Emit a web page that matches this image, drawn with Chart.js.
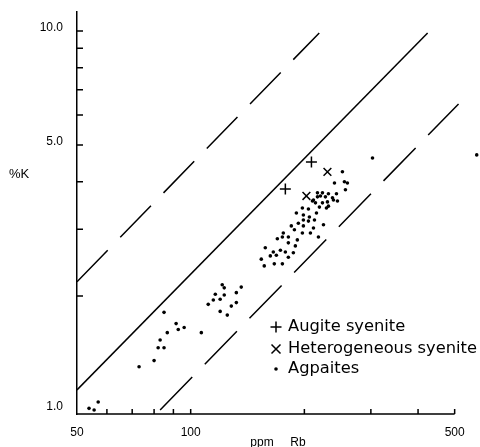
<!DOCTYPE html>
<html lang="en">
<head>
<meta charset="UTF-8">
<title>K vs Rb</title>
<style>
    body { margin: 0; background: #fff; }
    #chart { display: block; }
</style>
</head>
<body>
<canvas id="chart" width="480" height="447"></canvas>
<script src="https://cdn.jsdelivr.net/npm/chart.js"></script>
<script>
// Rb (ppm) and K (%)
const agpaiteRb = [53.8, 55.5, 56.9, 73.0, 80.0, 82.0, 85.0, 83.0, 86.7, 85.0, 91.5, 92.7, 96.1, 106.7,
    111.3, 114.8, 116.2, 119.7, 121.2, 122.7, 122.7, 119.7, 125.0, 128.1, 132.1, 132.1, 136.1,
    153.8, 156.6, 157.6, 162.5, 165.5, 166.5, 168.6, 169.6, 172.8, 174.9, 174.9, 175.9, 178.1,
    181.4, 181.4, 181.4, 184.7, 187.0, 188.2, 189.3, 190.5, 191.6, 192.8, 197.6, 197.6, 198.8,
    198.8, 198.8, 205.0, 205.0, 206.2, 207.5, 210.1, 211.4, 211.4, 212.7, 214.0, 215.3, 216.6,
    216.6, 217.9, 219.2, 220.6, 223.3, 223.3, 224.7, 227.4, 228.8, 230.2, 231.6, 231.6, 237.4,
    238.8, 240.3, 243.2, 244.7, 252.2, 255.3, 260.0, 256.9, 303, 572];
const agpaiteK = [1.01, 1.00, 1.05, 1.30, 1.35, 1.46, 1.46, 1.53, 1.60, 1.81, 1.69, 1.63, 1.65, 1.60,
    1.90, 1.95, 2.02, 1.96, 2.14, 2.10, 2.01, 1.82, 1.78, 1.88, 1.92, 2.04, 2.11,
    2.50, 2.40, 2.68, 2.55, 2.61, 2.43, 2.56, 2.83, 2.64, 2.86, 2.43, 2.93, 2.61,
    2.86, 2.76, 2.53, 3.06, 2.60, 2.99, 2.71, 3.31, 2.81, 3.11, 3.41, 2.93, 3.27,
    3.17, 3.06, 3.39, 3.15, 3.23, 2.93, 3.56, 3.58, 3.02, 3.17, 3.52, 3.31, 3.74,
    3.65, 2.86, 3.43, 3.67, 3.74, 3.52, 3.08, 3.65, 3.41, 3.54, 3.72, 3.45, 3.63,
    3.58, 3.97, 3.72, 3.56, 4.25, 4.00, 3.97, 3.81, 4.62, 4.71];
const augiteRb = [208.8, 178.1];
const augiteK = [4.51, 3.83];
const heteroRb = [230.2, 202.5];
const heteroK = [4.25, 3.67];

// constant K/Rb reference lines
const upperDashRb = [50, 219];
const upperDashK = [2.18, 9.88];
const solidRb = [50, 424];
const solidK = [1.13, 9.88];
const lowerDashRb = [83, 512];
const lowerDashK = [1.0, 6.42];

const xTicks = [50, 60, 70, 80, 90, 100, 200, 300, 400, 500];
const xLabels = [50, 100, 500];
const yTicks = [1, 2, 3, 4, 5, 6, 7, 8, 9, 10];
const yLabels = [1, 5, 10];

const legendNames = ['Augite syenite', 'Heterogeneous syenite', 'Agpaites'];

function toPoints(xs, ys) {
    return xs.map((x, i) => ({ x: x, y: ys[i] }));
}

function drawMarker(ctx, style, x, y) {
    ctx.beginPath();
    if (style === 'cross') {
        ctx.moveTo(x - 5.5, y); ctx.lineTo(x + 5.5, y);
        ctx.moveTo(x, y - 5.5); ctx.lineTo(x, y + 5.5);
        ctx.stroke();
    } else if (style === 'crossRot') {
        ctx.moveTo(x - 4.5, y - 4.5); ctx.lineTo(x + 4.5, y + 4.5);
        ctx.moveTo(x - 4.5, y + 4.5); ctx.lineTo(x + 4.5, y - 4.5);
        ctx.stroke();
    } else {
        ctx.arc(x, y, 1.8, 0, Math.PI * 2);
        ctx.fill();
    }
}

const extras = {
    id: 'extras',
    afterDraw(chart) {
        const ctx = chart.ctx;
        const xs = chart.scales.x, ys = chart.scales.y;
        const area = chart.chartArea;
        ctx.save();
        ctx.strokeStyle = '#000';
        ctx.fillStyle = '#000';
        ctx.lineWidth = 1.5;

        // x axis line stops at 500, the last point sits beyond it
        const xEnd = xs.getPixelForValue(500);
        ctx.beginPath();
        ctx.moveTo(area.left, area.bottom);
        ctx.lineTo(xEnd, area.bottom);

        // tick marks pointing into the plot
        yTicks.forEach(v => {
            if (v === 1) return;
            const py = ys.getPixelForValue(v);
            ctx.moveTo(area.left, py);
            ctx.lineTo(area.left + 6, py);
        });
        xTicks.forEach(v => {
            if (v === 50) return;
            const px = xs.getPixelForValue(v);
            ctx.moveTo(px, area.bottom);
            ctx.lineTo(px, area.bottom - 5);
        });
        ctx.stroke();

        ctx.font = '13px "Liberation Sans", Arial, sans-serif';
        ctx.textBaseline = 'middle';
        ctx.textAlign = 'left';
        ctx.fillText('%K', 9, 174);

        // legend
        const styles = ['cross', 'crossRot', 'circle'];
        const rows = [327, 349, 369];
        ctx.font = '16.3px "DejaVu Sans", sans-serif';
        legendNames.forEach((name, i) => {
            drawMarker(ctx, styles[i], 276, rows[i]);
            ctx.fillText(name, 288, rows[i]);
        });
        ctx.restore();
    }
};

const lineStyle = {
    showLine: true,
    borderColor: '#000',
    borderWidth: 1.5,
    pointRadius: 0,
    fill: false
};

const font = { family: '"Liberation Sans", Arial, sans-serif', size: 12 };

new Chart(document.getElementById('chart'), {
    type: 'scatter',
    data: {
        datasets: [
            Object.assign({ label: 'upper', data: toPoints(upperDashRb, upperDashK), borderDash: [44, 18] }, lineStyle),
            Object.assign({ label: 'mid', data: toPoints(solidRb, solidK) }, lineStyle),
            Object.assign({ label: 'lower', data: toPoints(lowerDashRb, lowerDashK), borderDash: [46, 18] }, lineStyle),
            {
                label: 'Agpaites',
                data: toPoints(agpaiteRb, agpaiteK),
                pointStyle: 'circle',
                pointRadius: 1.8,
                backgroundColor: '#000',
                borderColor: '#000',
                borderWidth: 0
            },
            {
                label: 'Augite syenite',
                data: toPoints(augiteRb, augiteK),
                pointStyle: 'cross',
                pointRadius: 5.5,
                borderColor: '#000',
                borderWidth: 1.5
            },
            {
                label: 'Heterogeneous syenite',
                data: toPoints(heteroRb, heteroK),
                pointStyle: 'crossRot',
                pointRadius: 5.5,
                borderColor: '#000',
                borderWidth: 1.5
            }
        ]
    },
    options: {
        responsive: false,
        animation: false,
        devicePixelRatio: 1,
        layout: { autoPadding: false, padding: { top: 12, right: 1, left: 0, bottom: 0 } },
        plugins: {
            legend: { display: false },
            tooltip: { enabled: false }
        },
        scales: {
            x: {
                type: 'logarithmic',
                min: 50,
                max: 580,
                afterFit: s => { s.height = 33; s.paddingLeft = 0; s.paddingRight = 0; },
                afterBuildTicks: s => { s.ticks = xTicks.map(v => ({ value: v })); },
                grid: { display: false, drawTicks: false },
                border: { display: false },
                ticks: {
                    autoSkip: false,
                    maxRotation: 0,
                    padding: 11,
                    color: '#000',
                    font: font,
                    callback: v => xLabels.includes(v) ? String(v) : ''
                },
                title: {
                    display: true,
                    text: 'ppm     Rb',
                    color: '#000',
                    padding: 0,
                    font: { family: font.family, size: 12, lineHeight: 0.8 }
                }
            },
            y: {
                type: 'logarithmic',
                min: 0.976,
                max: 11.22,
                afterFit: s => { s.width = 77; s.paddingTop = 0; s.paddingBottom = 0; },
                afterBuildTicks: s => { s.ticks = yTicks.map(v => ({ value: v })); },
                grid: { display: false, drawTicks: false },
                border: { display: true, color: '#000', width: 1.5 },
                ticks: {
                    autoSkip: false,
                    padding: 14,
                    labelOffset: -3,
                    color: '#000',
                    font: font,
                    callback: v => yLabels.includes(v) ? v.toFixed(1) : ''
                }
            }
        }
    },
    plugins: [extras]
});
</script>
</body>
</html>
